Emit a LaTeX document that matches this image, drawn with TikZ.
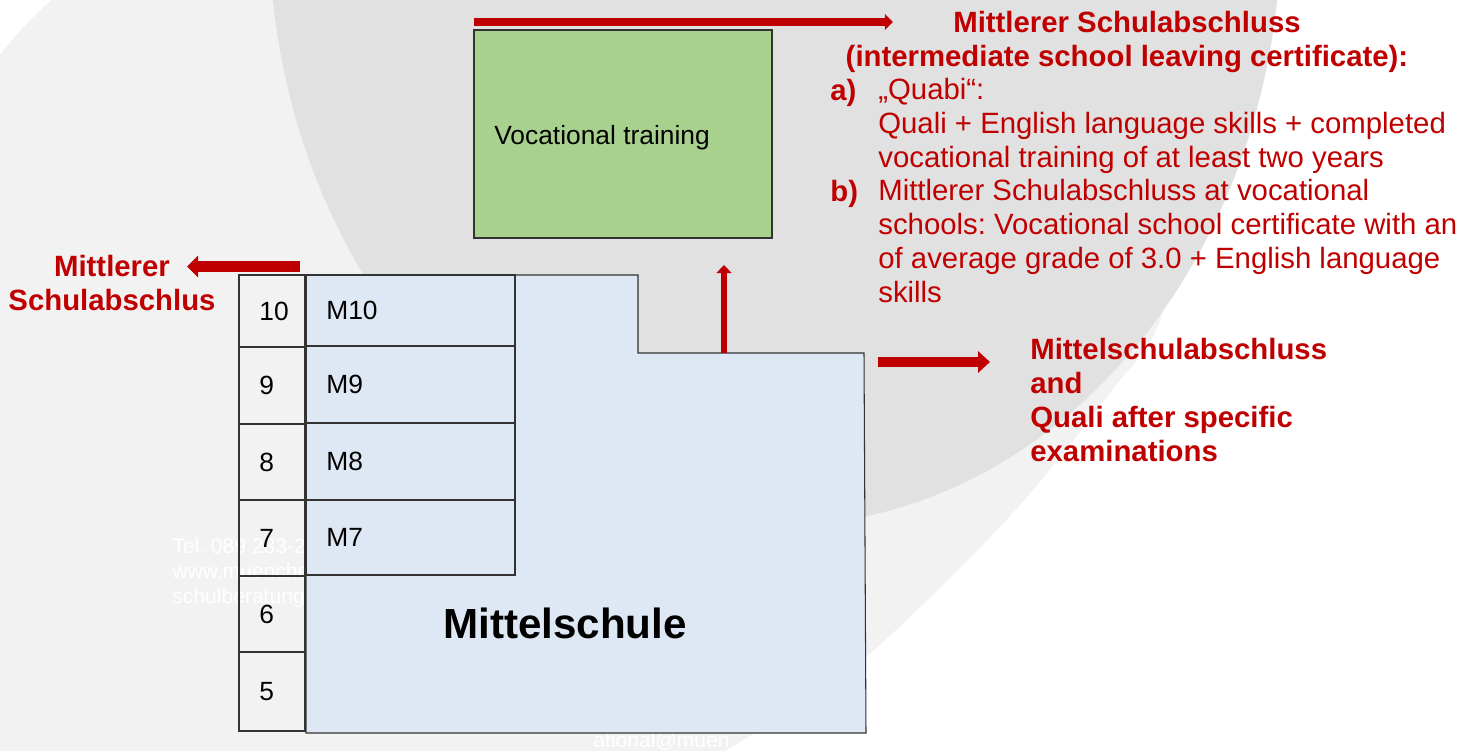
\documentclass[tikz,border=0pt]{standalone}
\usepackage{fontspec}
\setmainfont{Liberation Sans}
\usepackage{xcolor}
\usetikzlibrary{arrows.meta}
\frenchspacing

\definecolor{darkred}{HTML}{C00000}
\definecolor{bgdark}{HTML}{E1E1E1}
\definecolor{bglight}{HTML}{F2F2F2}
\definecolor{schoolblue}{HTML}{DEE8F4}
\definecolor{traingreen}{HTML}{A9D18E}

\tikzset{
  redtext/.style={text=darkred, inner sep=0pt, font=\fontsize{16.7}{19.3}\selectfont},
  redbold/.style={text=darkred, inner sep=0pt, font=\fontsize{16.7}{19.3}\selectfont\bfseries},
  boxtext/.style={inner sep=0pt, font=\fontsize{15}{18}\selectfont},
  watermark/.style={text=white, inner sep=0pt, anchor=base west, font=\fontsize{12}{14.2}\selectfont},
  boxline/.style={line width=0.6pt, draw=black!80},
  redarrow/.style={draw=darkred, line width=#1},
}

\begin{document}
\begin{tikzpicture}[x=0.02cm, y=-0.02cm]
\useasboundingbox (0,0) rectangle (1475,751);
% page background with the grey swoosh
\begin{scope}
\clip (0,0) rectangle (1475,751);
\fill[white] (0,0) rectangle (1475,751);
\fill[bglight] (0,55) .. controls (18,32) and (35,14) .. (52,0) -- (1200,0)
  -- plot[smooth] coordinates {(1200,0) (1190,160) (1160,320) (1112,390) (1010,516) (860,662) (725,751)}
  -- (0,751) -- cycle;
\fill[bgdark] (775,-75) ellipse [x radius=506, y radius=601];
\end{scope}
% faint contact lines behind the boxes
\node[watermark] (tel) at (172,553) {Tel. 089 233-2};
\node[watermark] (www) at (172,578) {www.muenche};
\node[watermark] (mail) at (172,603) {schulberatung};
\node[watermark] (mailend) at (593,747) {ational@muen};
% vocational training box
\draw[boxline, fill=traingreen] (474,30) rectangle (772,238);
\node[boxtext, anchor=base west] (voc) at (494,144) {Vocational training};
% grade column, 10 down to 5
\foreach \g/\ya/\yb in {10/275/347, 9/347/424, 8/424/500, 7/500/576, 6/576/652, 5/652/731} {
  \draw[boxline] (239,\ya) rectangle (305,\yb);
  \node[boxtext, anchor=west] (g\g) at (259,{(\ya+\yb)/2}) {\g};
}
% Mittelschule block with the step for M10
\draw[boxline, fill=schoolblue] (306,275) -- (638,275) -- (638,353) -- (864,353) -- (866,733) -- (306,733) -- cycle;
\foreach \m/\ya/\yb in {10/275/346, 9/346/423, 8/423/500, 7/500/575} {
  \draw[boxline, fill=schoolblue] (306,\ya) rectangle (515,\yb);
  \node[boxtext, anchor=west] (m\m) at (326,{(\ya+\yb)/2}) {M\m};
}
\node[inner sep=0pt, anchor=base, font=\fontsize{24}{28}\selectfont\bfseries] (ms) at (565,638) {Mittelschule};
% leaving certificates, in red (base = last line)
\node[redbold, align=center, anchor=base] (msa) at (1127,66) {Mittlerer Schulabschluss\\(intermediate school leaving certificate):};
\node[redbold, anchor=base west] (lbla) at (830,100) {a)};
\node[redtext, align=left, anchor=base west] (itema) at (878,167.6) {„Quabi“:\\Quali + English language skills + completed\\vocational training of at least two years};
\node[redbold, anchor=base west] (lblb) at (830,201) {b)};
\node[redtext, align=left, anchor=base west] (itemb) at (878,302.4) {Mittlerer Schulabschluss at vocational\\schools: Vocational school certificate with an\\of average grade of 3.0 + English language\\skills};
\node[redbold, align=center, anchor=base] (msaleft) at (112,310.5) {Mittlerer\\Schulabschlus};
\node[redbold, align=left, anchor=base west] (msright) at (1030,461) {Mittelschulabschluss\\and\\Quali after specific\\examinations};
% arrows
\coordinate (topstart) at (474,22);
\coordinate (topend) at (893,22);
\coordinate (leftstart) at (300,266.5);
\coordinate (leftend) at (187,266.5);
\coordinate (upstart) at (724,353);
\coordinate (upend) at (724,265);
\coordinate (rightstart) at (878,362);
\coordinate (rightend) at (990,362);
\draw[redarrow=4.2pt, -{Triangle[length=4.6pt, width=8.9pt]}] (topstart) -- (topend);
\draw[redarrow=5.7pt, -{Triangle[length=6.3pt, width=12pt]}] (leftstart) -- (leftend);
\draw[redarrow=3.8pt, -{Triangle[length=4.6pt, width=8.5pt]}] (upstart) -- (upend);
\draw[redarrow=6.1pt, -{Triangle[length=6.8pt, width=12pt]}] (rightstart) -- (rightend);
\end{tikzpicture}
\end{document}
